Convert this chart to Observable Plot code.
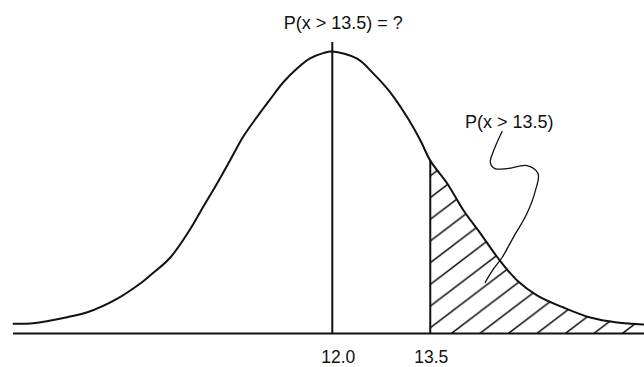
<!DOCTYPE html>
<html>
<head>
<meta charset="utf-8">
<script src="https://cdn.jsdelivr.net/npm/d3@7"></script>
<script src="https://cdn.jsdelivr.net/npm/@observablehq/plot@0.6"></script>
<style>
  html, body { margin: 0; padding: 0; background: #fff; }
  #chart svg { display: block; }
</style>
</head>
<body>
<div id="chart"></div>
<script>
// Bell curve of x (mean 12.0), traced as (x, density) points
const curveX = [7.12, 7.42, 7.94, 8.25, 8.71, 9.06, 9.21, 9.52, 9.83, 10.00, 10.24, 10.44, 10.64, 10.85, 11.05, 11.25, 11.46, 11.66, 11.86, 12.00,
                12.38, 12.63, 12.89, 13.15, 13.35, 13.50, 13.76, 14.01, 14.27, 14.53, 14.83, 15.14, 15.54, 15.95, 16.36, 16.76];
const curveY = [0.0092, 0.0097, 0.0154, 0.0201, 0.0330, 0.0472, 0.0547, 0.0717, 0.0990, 0.1170, 0.1420, 0.1640, 0.1860, 0.2045, 0.2210, 0.2370, 0.2500, 0.2595, 0.2645, 0.2660,
                0.2593, 0.2452, 0.2273, 0.2037, 0.1820, 0.1631, 0.1415, 0.1160, 0.0943, 0.0717, 0.0500, 0.0358, 0.0245, 0.0151, 0.0104, 0.0085];

const mean = 12.0;
const cut = 13.5;
const axisRange = [7.12, 16.78];

const tickValues = [12.0, 13.5];
const tickLabels = ["12.0", "13.5"];

const titleText = "P(x > 13.5) = ?";
const noteText = "P(x > 13.5)";
const notePos = [14.71, 0.199];

// Wavy pointer from the note down into the shaded tail
const pointerX = [14.60, 14.49, 14.42, 14.49, 14.68, 14.98, 15.15, 15.11, 14.98, 14.77, 14.60, 14.45, 14.34];
const pointerY = [0.1905, 0.1754, 0.1613, 0.1556, 0.1556, 0.1584, 0.1509, 0.1348, 0.1132, 0.0905, 0.0717, 0.0594, 0.0481];

const curve = curveX.map((x, i) => ({x, y: curveY[i]}));
const tail = curve.filter(d => d.x >= cut);
const pointer = pointerX.map((x, i) => ({x, y: pointerY[i]}));
const peak = d3.max(curveY);
const cutHeight = curve.find(d => d.x === cut).y;

const ink = "#111";
const font = "Liberation Sans, Arial, Helvetica, sans-serif";

const chart = Plot.plot({
  width: 644,
  height: 367,
  marginLeft: 0,
  marginRight: 0,
  marginTop: 15,
  marginBottom: 34,
  style: {fontFamily: font, background: "#fff", color: ink},
  x: {domain: [6.92, 16.78], axis: null},
  y: {domain: [0, 0.3], axis: null},
  marks: [
    Plot.areaY(tail, {x: "x", y: "y", fill: "url(#hatch)", curve: "catmull-rom"}),
    Plot.line(curve, {x: "x", y: "y", stroke: ink, strokeWidth: 2, curve: "catmull-rom"}),
    Plot.ruleX([mean], {y1: 0, y2: peak * 1.032, stroke: ink, strokeWidth: 2}),
    Plot.ruleX([cut], {y1: 0, y2: cutHeight, stroke: ink, strokeWidth: 2}),
    Plot.ruleY([0], {x1: axisRange[0], x2: axisRange[1], stroke: ink, strokeWidth: 2}),
    Plot.line(pointer, {x: "x", y: "y", stroke: ink, strokeWidth: 1.3, curve: "catmull-rom"}),
    ...tickValues.map((v, i) =>
      Plot.text([v], {x: d => d, y: 0, text: () => tickLabels[i], dy: 24, dx: i === 0 ? 6 : 1, fontSize: 17.5, fill: ink})
    ),
    Plot.text([titleText], {x: mean, frameAnchor: "top", lineAnchor: "middle", text: d => d, dy: 8, dx: 11, fontSize: 18, fill: ink}),
    Plot.text([noteText], {x: notePos[0], y: notePos[1], text: d => d, fontSize: 18, fill: ink})
  ]
});

// Diagonal hatching used to shade the upper tail
const W = 28.5, H = 21.7;
const defs = d3.select(chart).insert("defs", ":first-child");
defs.append("pattern")
    .attr("id", "hatch")
    .attr("patternUnits", "userSpaceOnUse")
    .attr("x", 452).attr("y", 333)
    .attr("width", W).attr("height", H)
  .append("path")
    .attr("d", `M0,${H}L${W},0M${-W / 2},${H / 2}L${W / 2},${-H / 2}M${W / 2},${1.5 * H}L${1.5 * W},${H / 2}`)
    .attr("stroke", ink)
    .attr("stroke-width", 1.5)
    .attr("fill", "none");

document.getElementById("chart").append(chart);
</script>
</body>
</html>
